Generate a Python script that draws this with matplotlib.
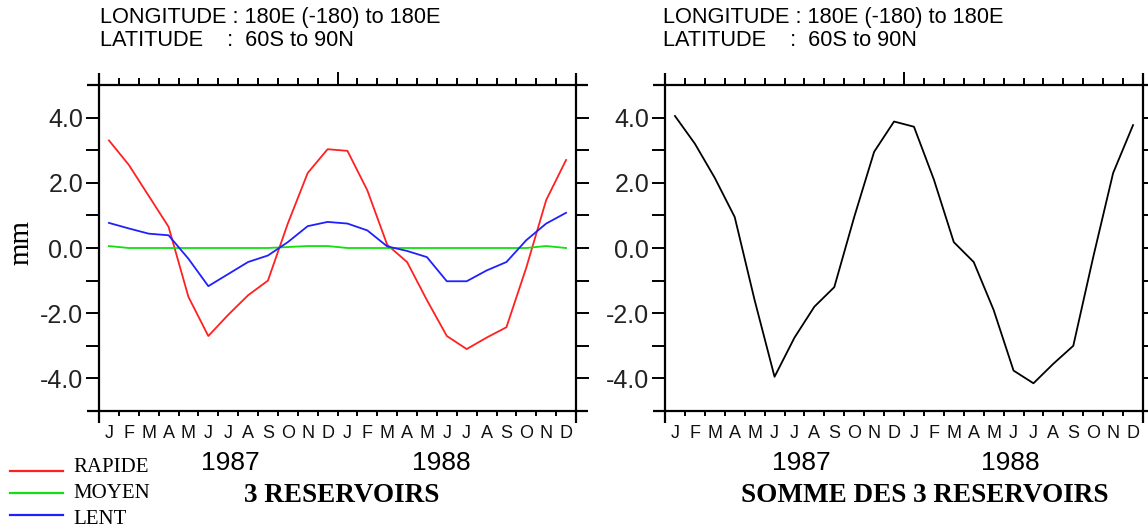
import numpy as np
import matplotlib
matplotlib.use("Agg")
import matplotlib.pyplot as plt
from matplotlib.lines import Line2D

# ---------------- data ----------------
months = ['J', 'F', 'M', 'A', 'M', 'J', 'J', 'A', 'S', 'O', 'N', 'D'] * 2
years = ['1987', '1988']
yticks = [-4.0, -2.0, 0.0, 2.0, 4.0]
ytick_labels = ['-4.0', '-2.0', '0.0', '2.0', '4.0']

rapide = [3.30, 2.55, 1.60, 0.65, -1.50, -2.70, -2.05, -1.45, -1.00, 0.75, 2.30, 3.03,
          2.98, 1.77, 0.10, -0.43, -1.60, -2.70, -3.10, -2.75, -2.43, -0.60, 1.47, 2.70]
moyen = [0.06, 0.00, 0.00, 0.00, 0.00, 0.00, 0.00, 0.00, 0.00, 0.03, 0.06, 0.06,
         0.00, 0.00, 0.00, 0.00, 0.00, 0.00, 0.00, 0.00, 0.00, 0.00, 0.06, 0.00]
lent = [0.77, 0.60, 0.44, 0.39, -0.33, -1.17, -0.80, -0.43, -0.23, 0.18, 0.67, 0.80,
        0.75, 0.54, 0.05, -0.09, -0.28, -1.02, -1.02, -0.69, -0.43, 0.24, 0.75, 1.08]
somme = [4.05, 3.20, 2.15, 0.95, -1.60, -3.95, -2.75, -1.80, -1.20, 0.95, 2.95, 3.88,
         3.72, 2.10, 0.18, -0.43, -1.90, -3.76, -4.15, -3.55, -3.00, -0.28, 2.30, 3.77]

series_names = ['RAPIDE', 'MOYEN', 'LENT']
series_colors = ['#ff2020', '#10e010', '#2020ff']

W, H = 1148, 531
PT = 72 / 100  # points per pixel at dpi 100
fig = plt.figure(figsize=(W / 100, H / 100), dpi=100)

SANS = ['Liberation Sans', 'DejaVu Sans']
SERIF = ['Liberation Serif', 'DejaVu Serif']

ax1 = fig.add_axes([99 / W, 1 - 411 / H, 477 / W, 326 / H])
ax2 = fig.add_axes([665 / W, 1 - 411 / H, 478 / W, 326 / H])

x = np.arange(len(rapide)) + 0.5


def style(ax):
    ax.set_xlim(0, 24)
    ax.set_ylim(-5, 5)
    for s in ax.spines.values():
        s.set_visible(False)
    # frame with lines extending beyond corners
    bb = ax.get_position()
    wpx = bb.width * W
    hpx = bb.height * H
    ex = 12 / wpx
    ey = 12 / hpx
    kw = dict(transform=ax.transAxes, clip_on=False, color='black', lw=1.6,
              solid_capstyle='butt')
    ax.add_line(Line2D([-ex, 1 + ex], [1, 1], **kw))
    ax.add_line(Line2D([-ex, 1 + ex], [0, 0], **kw))
    ax.add_line(Line2D([0, 0], [-ey, 1 + ey], **kw))
    ax.add_line(Line2D([1, 1], [-ey, 1 + ey], **kw))
    # x ticks: month boundaries (major, unlabeled), month names at mid-month (minor)
    ax.set_xticks(np.arange(1, 24))
    ax.set_xticklabels([])
    ax.set_xticks(np.arange(24) + 0.5, minor=True)
    ax.set_xticklabels(months, minor=True, fontsize=13, family=SANS, color='#111111')
    ax.tick_params(axis='x', which='major', direction='out', top=True, bottom=True,
                   length=6 * PT, width=1.4, color='black')
    ax.tick_params(axis='x', which='minor', length=0, pad=10)
    for i, t in enumerate(ax.xaxis.get_major_ticks()):
        t.tick1line.set_markersize(5 * PT)
        t.tick2line.set_markersize((13 if i == 11 else 7) * PT)
    # y ticks every unit, labels every two units
    ypos = np.arange(-4, 5)
    labmap = dict(zip(yticks, ytick_labels))
    ax.set_yticks(ypos)
    ax.set_yticklabels([labmap.get(float(v), '') for v in ypos],
                       fontsize=18, family=SANS, color='#222222')
    ax.tick_params(axis='y', which='major', direction='out', left=True, right=True,
                   labelright=False, length=13 * PT, width=1.4, color='black', pad=2)


# left panel
for vals, name, col in zip([rapide, moyen, lent], series_names, series_colors):
    ax1.plot(x, vals, color=col, lw=1.3, label=name)
style(ax1)
ax1.set_ylabel('mm', family=SERIF, fontsize=21)
ax1.yaxis.set_label_coords(-65 / 477, 0.518)

# right panel
ax2.plot(x, somme, color='black', lw=1.3)
style(ax2)

# headers
for x0 in (100, 663):
    fig.text(x0 / W, 1 - 17 / H, 'LONGITUDE : 180E (-180) to 180E', fontsize=15.7,
             family=SANS, va='center', ha='left')
    fig.text(x0 / W, 1 - 41 / H, 'LATITUDE    :  60S to 90N', fontsize=15.7,
             family=SANS, va='center', ha='left')

# year labels
for ax, xs in ((ax1, (0.275, 0.717)), (ax2, (0.285, 0.722))):
    for yr, xf in zip(years, xs):
        ax.text(xf, -(463 - 411) / 326, yr, transform=ax.transAxes, ha='center',
                va='center', fontsize=19, family=SANS)

# titles
ax1.text(0.509, -(495 - 411) / 326, '3 RESERVOIRS', transform=ax1.transAxes,
         ha='center', va='center', fontsize=19.5, family=SERIF, fontweight='bold')
ax2.text(0.544, -(495 - 411) / 326, 'SOMME DES 3 RESERVOIRS', transform=ax2.transAxes,
         ha='center', va='center', fontsize=19.5, family=SERIF, fontweight='bold')

# legend drawn manually
ly = [471, 493, 515]
ty = [467, 494, 519]
for name, col, yl, yt in zip(series_names, series_colors, ly, ty):
    fig.add_artist(Line2D([10 / W, 63 / W], [1 - yl / H, 1 - yl / H], color=col, lw=1.6,
                          transform=fig.transFigure))
    fig.text(73 / W, 1 - yt / H, name, fontsize=15, family=SERIF, va='center', ha='left')

fig.savefig('out.png', dpi=100)
